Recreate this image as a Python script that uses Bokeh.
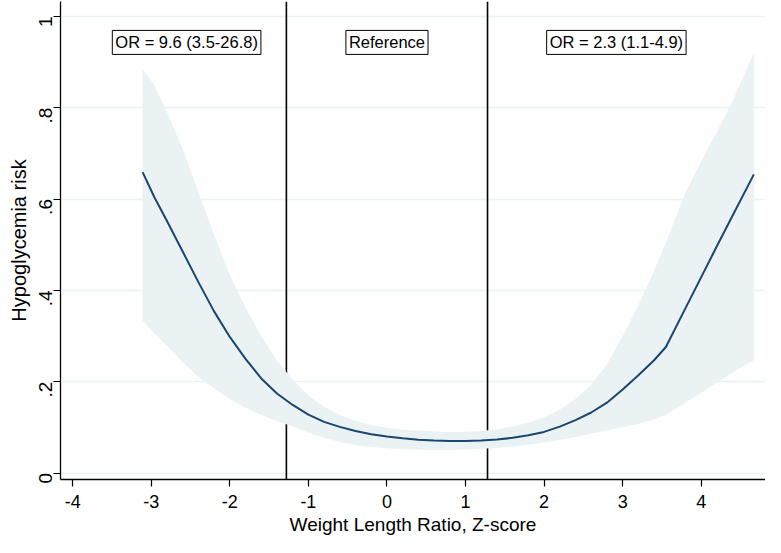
import math
from bokeh.plotting import figure
from bokeh.models import Span, Label, Range1d, FixedTicker, ColumnDataSource
from bokeh.embed import file_html
from bokeh.resources import INLINE

# ---- data ----
z_score = [-3.11, -2.96, -2.8, -2.6, -2.4, -2.2, -2.0, -1.8, -1.6, -1.4,
           -1.2, -1.0, -0.8, -0.6, -0.4, -0.2, 0.0, 0.2, 0.4, 0.6,
           0.8, 1.0, 1.2, 1.4, 1.6, 1.8, 2.0, 2.2, 2.4, 2.6,
           2.8, 3.0, 3.2, 3.4, 3.55, 3.8, 4.0, 4.2, 4.4, 4.67]
risk_fit = [0.659, 0.604, 0.552, 0.485, 0.418, 0.354, 0.298, 0.250, 0.207, 0.174,
            0.149, 0.128, 0.112, 0.101, 0.092, 0.085, 0.080, 0.076, 0.073, 0.071,
            0.070, 0.0703, 0.0713, 0.0735, 0.077, 0.0825, 0.090, 0.1015, 0.116, 0.1325,
            0.154, 0.183, 0.214, 0.247, 0.276, 0.361, 0.429, 0.497, 0.564, 0.654]
ci_upper = [0.885, 0.849, 0.790, 0.710, 0.615, 0.522, 0.434, 0.362, 0.300, 0.246,
            0.205, 0.170, 0.145, 0.127, 0.114, 0.105, 0.099, 0.095, 0.093, 0.091,
            0.090, 0.0905, 0.092, 0.096, 0.102, 0.110, 0.122, 0.139, 0.162, 0.194,
            0.238, 0.300, 0.368, 0.443, 0.505, 0.615, 0.682, 0.748, 0.815, 0.920]
ci_lower = [0.334, 0.306, 0.279, 0.243, 0.211, 0.185, 0.162, 0.143, 0.127, 0.114,
            0.102, 0.089, 0.077, 0.068, 0.061, 0.057, 0.054, 0.052, 0.051, 0.0505,
            0.0505, 0.0515, 0.053, 0.055, 0.058, 0.062, 0.067, 0.073, 0.079, 0.086,
            0.093, 0.100, 0.108, 0.117, 0.127, 0.154, 0.176, 0.198, 0.220, 0.247]

cut_points = [-1.28, 1.28]
x_ticks = [-4, -3, -2, -1, 0, 1, 2, 3, 4]
x_tick_labels = ["-4", "-3", "-2", "-1", "0", "1", "2", "3", "4"]
y_ticks = [0, 0.2, 0.4, 0.6, 0.8, 1.0]
y_tick_labels = ["0", ".2", ".4", ".6", ".8", "1"]
box_texts = ["OR = 9.6 (3.5-26.8)", "Reference", "OR = 2.3 (1.1-4.9)"]
box_x = [-2.55, 0.0, 2.92]
box_y = 0.943
x_title = "Weight Length Ratio, Z-score"
y_title = "Hypoglycemia risk"

FONT = "Liberation Sans"
NAVY = "#1a476f"
PALE = "#eaf2f3"

p = figure(width=765, height=537, output_backend="svg", toolbar_location=None,
           x_range=Range1d(-4.155, 4.818), y_range=Range1d(-0.0142, 1.0326),
           min_border_left=60, min_border_right=0, min_border_top=1, min_border_bottom=55)
p.outline_line_color = None
p.background_fill_color = "white"
p.border_fill_color = "white"

# vertical cut lines (drawn under the band)
for c in cut_points:
    p.add_layout(Span(location=c, dimension="height", line_color="black",
                      line_width=1.6, level="underlay"))

src = ColumnDataSource(dict(x=z_score, fit=risk_fit, lo=ci_lower, hi=ci_upper))
p.varea(x="x", y1="lo", y2="hi", source=src, fill_color=PALE, fill_alpha=1.0)
p.line(x="x", y="fit", source=src, line_color=NAVY, line_width=2)

for t, bx in zip(box_texts, box_x):
    p.add_layout(Label(x=bx, y=box_y, text=t, text_align="center", text_baseline="middle",
                       text_font=FONT, text_font_size="16.5px", text_color="black",
                       border_line_color="black", border_line_width=1,
                       background_fill_color="white", padding=3))

# grid
p.xgrid.visible = False
p.ygrid.ticker = FixedTicker(ticks=y_ticks)
p.ygrid.grid_line_color = PALE
p.ygrid.grid_line_width = 1.5

# axes
p.xaxis.ticker = FixedTicker(ticks=x_ticks)
p.xaxis.major_label_overrides = {t: l for t, l in zip(x_ticks, x_tick_labels)}
p.yaxis.ticker = FixedTicker(ticks=y_ticks)
p.yaxis.major_label_overrides = {t: l for t, l in zip(y_ticks, y_tick_labels)}
p.yaxis.major_label_orientation = math.pi / 2
for ax in (p.xaxis, p.yaxis):
    ax.axis_line_color = "black"
    ax.axis_line_width = 1.3
    ax.major_tick_line_color = "black"
    ax.major_tick_line_width = 1.2
    ax.major_tick_out = 7
    ax.major_tick_in = 0
    ax.minor_tick_line_color = None
    ax.major_label_text_font = FONT
    ax.major_label_text_font_size = "18px"
    ax.major_label_text_color = "black"
    ax.axis_label_text_font = FONT
    ax.axis_label_text_font_size = "19px"
    ax.axis_label_text_font_style = "normal"
    ax.axis_label_text_color = "black"
p.yaxis.axis_label_text_font_size = "20px"
p.yaxis.major_label_text_font_size = "19px"

p.xaxis.axis_label = x_title
p.yaxis.axis_label = y_title
p.xaxis.major_label_standoff = 8
p.xaxis.axis_label_standoff = 3
p.yaxis.major_label_standoff = 8
p.yaxis.axis_label_standoff = 0

open("out.html", "w").write(file_html(p, INLINE))
